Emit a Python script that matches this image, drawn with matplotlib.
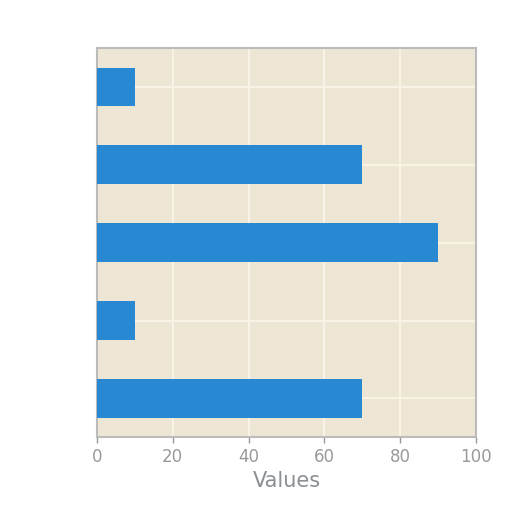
import matplotlib
matplotlib.use("Agg")
import matplotlib.pyplot as plt

categories = ["A", "B", "C", "D", "E"]
values = [10, 70, 90, 10, 70]
x_ticks = [0, 20, 40, 60, 80, 100]

fig = plt.figure(figsize=(5.12, 5.12), dpi=100)
ax = fig.add_axes([0.189, 0.146, 0.741, 0.760])
ax.set_facecolor("#ede6d4")
ypos = list(range(len(categories)))
ax.barh(ypos, values, height=0.5, color="#2888d2", zorder=3)
ax.set_ylim(len(categories) - 0.5, -0.5)
ax.set_xlim(0, 100)
ax.set_yticks(ypos)
ax.set_yticklabels([])
ax.tick_params(axis="y", length=0)
ax.set_xticks(x_ticks)
ax.tick_params(axis="x", colors="#999999", labelsize=12, length=4, width=1)
ax.grid(True, color="#f8f3e6", linewidth=1.5, zorder=0)
for s in ax.spines.values():
    s.set_color("#bbbbbb")
    s.set_linewidth(1.5)
ax.set_xlabel("Values", color="#8a8f94", fontsize=15)
fig.savefig("out.png", dpi=100)
